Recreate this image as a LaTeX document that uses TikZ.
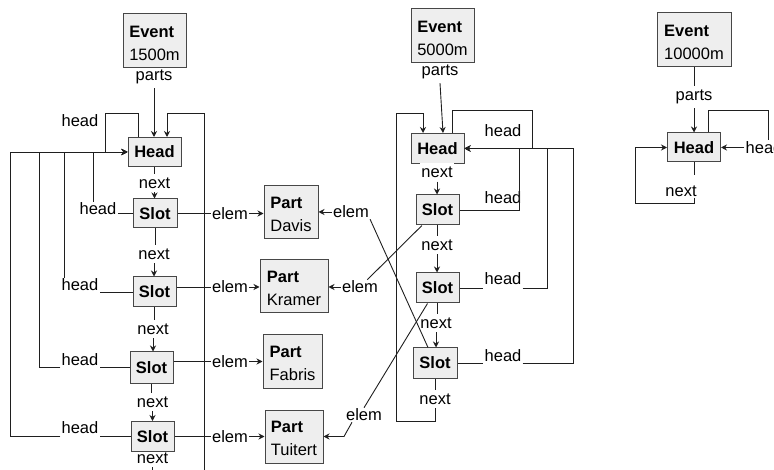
\documentclass[tikz,border=0pt]{standalone}
\usepackage{fontspec}
\setmainfont{Liberation Sans}
\usetikzlibrary{arrows.meta}
\definecolor{boxfill}{RGB}{238,238,238}
\newcommand{\toprow}[1]{\textbf{#1}\rule{0pt}{16pt}}
\begin{document}
\begin{tikzpicture}[x=1pt,y=-1pt,
  font=\fontsize{16.5}{23}\selectfont,
  box/.style={draw=black!72, fill=boxfill, line width=1pt, inner sep=0pt, align=left},
  lab/.style={inner sep=1pt},
  nx/.style={inner sep=1pt, outer ysep=3pt},
  ln/.style={draw=black!88, line width=0.9pt},
  arr/.style={ln, -{Stealth[length=6pt,width=6pt]}},
]
\useasboundingbox (0,0) rectangle (774,470);

% ---------- group 1 : 1500m ----------
\node[box, minimum width=63pt, minimum height=54pt] (E1) at (154.5,41) {\toprow{Event}\\1500m};
\node[box, minimum width=53pt, minimum height=29pt] (H1) at (154.5,152) {\textbf{Head}};
\node[box, minimum width=44pt, minimum height=29pt] (S11) at (155,213.5) {\textbf{Slot}};
\node[box, minimum width=43pt, minimum height=30pt] (S12) at (154.5,292) {\textbf{Slot}};
\node[box, minimum width=43pt, minimum height=31pt] (S13) at (151.5,367.5) {\textbf{Slot}};
\node[box, minimum width=43pt, minimum height=30pt] (S14) at (152.5,436.5) {\textbf{Slot}};

\node[box, minimum width=54pt, minimum height=53pt] (PD) at (291,212.5) {\toprow{Part}\\Davis};
\node[box, minimum width=68pt, minimum height=53pt] (PK) at (294,286.5) {\toprow{Part}\\Kramer};
\node[box, minimum width=59pt, minimum height=53pt] (PF) at (292.5,361.5) {\toprow{Part}\\Fabris};
\node[box, minimum width=58pt, minimum height=53pt] (PT) at (294,436.5) {\toprow{Part}\\Tuitert};

% ---------- group 2 : 5000m ----------
\node[box, minimum width=63pt, minimum height=54pt] (E2) at (442.5,36) {\toprow{Event}\\5000m};
\node[box, minimum width=53pt, minimum height=30pt] (H2) at (437.5,148.5) {\textbf{Head}};
\node[box, minimum width=43pt, minimum height=30pt] (S21) at (437.5,210) {\textbf{Slot}};
\node[box, minimum width=43pt, minimum height=30pt] (S22) at (437.5,288) {\textbf{Slot}};
\node[box, minimum width=44pt, minimum height=30pt] (S23) at (435,363) {\textbf{Slot}};

% ---------- group 3 : 10000m ----------
\node[box, minimum width=74pt, minimum height=54pt] (E3) at (694,40) {\toprow{Event}\\10000m};
\node[box, minimum width=53pt, minimum height=29pt] (H3) at (694,147.5) {\textbf{Head}};

% ---------- labels ----------
\node[nx] (p1) at (154,77) {parts};
\node[lab] (hh1) at (80,121) {head};
\node[nx] (n11) at (154.5,183) {next};
\node[lab] (h11) at (98,209) {head};
\node[lab] (e11) at (230,213.5) {elem};
\node[nx] (n12) at (154,254) {next};
\node[lab] (h12) at (80,285) {head};
\node[lab] (e12) at (230,287) {elem};
\node[nx] (n13) at (153,329) {next};
\node[lab] (h13) at (80,360) {head};
\node[lab] (e13) at (230,361.5) {elem};
\node[nx] (n14) at (152.5,402) {next};
\node[lab] (h14) at (80,428) {head};
\node[lab] (e14) at (230,436.5) {elem};
\node[nx, fill=white] (n15) at (152.5,458) {next};

\node[nx] (p2) at (440,72) {parts};
\node[lab] (hh2) at (503,131) {head};
\node[inner xsep=1pt, inner ysep=4pt, fill=white] (n21) at (437,172) {next};
\node[lab] (h21) at (503,198) {head};
\node[nx] (n22) at (437,245) {next};
\node[lab] (h22) at (503,279) {head};
\node[nx] (n23) at (436,323) {next};
\node[lab] (h23) at (503,356) {head};
\node[nx] (n24) at (435,399) {next};
\node[lab] (e21) at (360,287) {elem};
\node[lab] (e22) at (351,212) {elem};
\node[lab] (e23) at (364,415) {elem};

\node[nx] (p3) at (694,97) {parts};
\node[lab] (hh3) at (764,147.5) {head};
\node[lab] (n3) at (681,191) {next};

% ---------- coordinates ----------
\coordinate (c1a) at (138,113);
\coordinate (c1b) at (105,113);
\coordinate (c1c) at (204,113);
\coordinate (c1d) at (167,113);
\coordinate (c1e) at (204,520);
\coordinate (v11) at (93,0);
\coordinate (v12) at (64,0);
\coordinate (v13) at (39,0);
\coordinate (v14) at (10,0);

\coordinate (c2a) at (532,110);
\coordinate (c2b) at (396,421);
\coordinate (c2c) at (396,113);
\coordinate (c2d) at (423,113);
\coordinate (c2e) at (344,436.5);
\coordinate (v21) at (519,0);
\coordinate (v22) at (547,0);
\coordinate (v23) at (573,0);

\coordinate (c3a) at (768,110);
\coordinate (c3b) at (694,203);
\coordinate (c3c) at (635,203);

% ---------- group 1 edges ----------
\draw[arr] (p1.south) -- (p1.south |- H1.north);
\draw[arr] (H1.north -| c1a) -- (c1a) -- (c1b) -- (c1b |- H1.west) -- (H1.west);
\draw[arr] (n15.south) -- (n15.south |- c1e) -- (c1e) -- (c1c) -- (c1d) -- (c1d |- H1.north);

\draw[ln] (H1.south) -- (H1.south |- n11.north);
\draw[arr] (n11.south) -- (n11.south |- S11.north);
\draw[ln] (S11.south) -- (S11.south |- n12.north);
\draw[arr] (n12.south) -- (n12.south |- S12.north);
\draw[ln] (S12.south) -- (S12.south |- n13.north);
\draw[arr] (n13.south) -- (n13.south |- S13.north);
\draw[ln] (S13.south) -- (S13.south |- n14.north);
\draw[arr] (n14.south) -- (n14.south |- S14.north);

\draw[ln] (S11.west) -- (S11.west -| h11.east);
\draw[arr] (h11.north -| v11) -- (v11 |- H1.west) -- (H1.west);
\draw[ln] (S12.west) -- (S12.west -| h12.east);
\draw[arr] (h12.north -| v12) -- (v12 |- H1.west) -- (H1.west);
\draw[ln] (S13.west) -- (S13.west -| h13.east);
\draw[arr] (S13.west -| h13.west) -- (S13.west -| v13) -- (v13 |- H1.west) -- (H1.west);
\draw[ln] (S14.west) -- (S14.west -| h14.east);
\draw[arr] (S14.west -| h14.west) -- (S14.west -| v14) -- (v14 |- H1.west) -- (H1.west);

\draw[ln] (S11.east |- e11.west) -- (e11.west);
\draw[arr] (e11.east) -- (e11.east -| PD.west);
\draw[ln] (S12.east |- e12.west) -- (e12.west);
\draw[arr] (e12.east) -- (e12.east -| PK.west);
\draw[ln] (S13.east |- e13.west) -- (e13.west);
\draw[arr] (e13.east) -- (e13.east -| PF.west);
\draw[ln] (S14.east |- e14.west) -- (e14.west);
\draw[arr] (e14.east) -- (e14.east -| PT.west);

% ---------- group 2 edges ----------
\draw[arr] (p2.south) -- ([xshift=5.5pt]H2.north);
\draw[arr] ([xshift=14.5pt]H2.north) |- (c2a) |- (H2.east);
\draw[arr] (n21.south) -- (n21.south |- S21.north);
\draw[ln] (S21.south) -- (S21.south |- n22.north);
\draw[arr] (n22.south) -- (n22.south |- S22.north);
\draw[ln] (S22.south) -- (S22.south |- n23.north);
\draw[arr] (n23.south) -- (n23.south |- S23.north);
\draw[ln] (S23.south) -- (S23.south |- n24.north);
\draw[arr] (n24.south) |- (c2b) -- (c2c) -- (c2d) -- (c2d |- H2.north);

\draw[arr] (S21.east) -- (S21.east -| v21) -- (v21 |- H2.east) -- (H2.east);
\draw[ln] (S22.east) -- (S22.east -| h22.west);
\draw[arr] (S22.east -| h22.east) -- (S22.east -| v22) -- (v22 |- H2.east) -- (H2.east);
\draw[ln] (S23.east) -- (S23.east -| h23.west);
\draw[arr] (S23.east -| h23.east) -- (S23.east -| v23) -- (v23 |- H2.east) -- (H2.east);

\draw[ln] (S21) -- (e21);
\draw[arr] (e21.west) -- (e21.west -| PK.east);
\draw[ln] (e22.south east) -- ([xshift=-7pt]S23.north);
\draw[arr] (e22.west) -- (e22.west -| PD.east);
\draw[ln] ([xshift=-10pt]S22.south) -- (e23.north);
\draw[arr] ([xshift=-12pt]e23.south) -- (c2e) -- (c2e -| PT.east);

% ---------- group 3 edges ----------
\draw[ln] (E3) -- (p3);
\draw[arr] (p3) -- (H3);
\draw[ln] ([xshift=14.5pt]H3.north) |- (c3a) -- (c3a |- hh3.north);
\draw[arr] (hh3.west) -- (H3.east);
\draw[ln] (H3.south) -- ++(0,13);
\draw[arr] (n3.south -| H3.south) -- (c3b) -- (c3c) |- (H3.west);
\end{tikzpicture}
\end{document}
